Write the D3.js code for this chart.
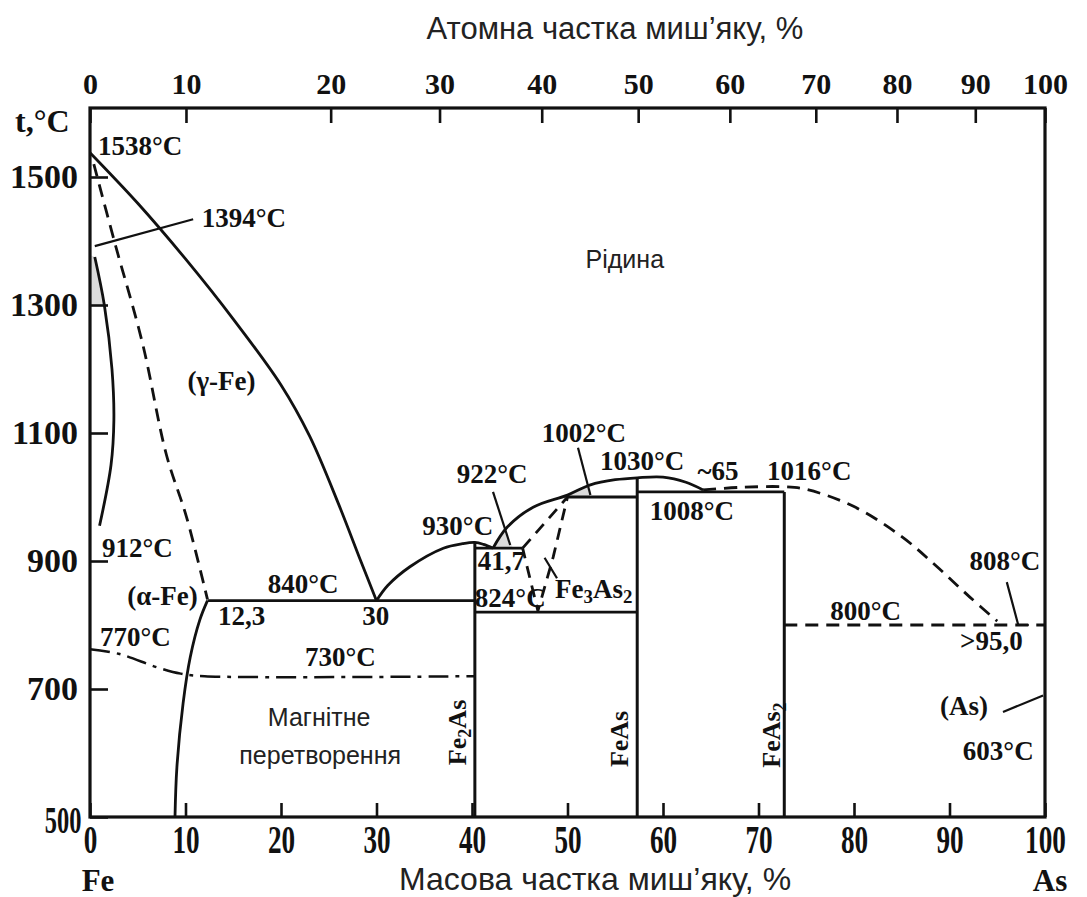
<!DOCTYPE html>
<html><head><meta charset="utf-8">
<script src="https://cdn.jsdelivr.net/npm/d3@7"></script>
<style>
body{margin:0;background:#fff}
.serif{font-family:'Liberation Serif','Times New Roman',serif;font-weight:bold;fill:#111}
.sans{font-family:'Liberation Sans',Arial,sans-serif;fill:#222}
</style>
</head><body>
<script>
// ---------- data ----------
const massTicks = [0,10,20,30,40,50,60,70,80,90,100];
const tempTicks = [500,700,900,1100,1300,1500];
const atomicLabels = [0,10,20,30,40,50,60,70,80,90,100];
const atomicTickMass = [0,10.05,25.2,36.6,47.3,57.4,67.0,76.0,84.5,92.7,100];

// phase boundaries: [mass % As, °C]
const liquidusFe = [[0,1538],[5,1459],[10,1372],[15,1278],[20,1175],[23,1095],[26,990],[28.3,902],[30,838]];
const deltaGammaDashed = [[0.4,1520],[2.6,1397],[5.5,1240],[8,1066],[10.1,969],[12.3,840]];
const gammaLoop = [[0.5,1375],[1.5,1300],[2.3,1200],[2.5,1120],[2.2,1050],[1.0,955]];
const alphaSolvus = [[12.3,838],[11.5,808],[10.5,750],[9.75,678],[9.1,578],[8.9,500]];
const eutectic840 = [[12.3,838],[40.3,838]];
const magnetic = [[0,762],[3,755],[7,734],[9.5,724],[12,720],[40.3,720]];
const liquidusFe2As = [[30,838],[31.2,862],[33.5,891],[37,920],[39,927],[40.3,929],[41.2,926],[42.2,920]];
const liquidusFeAs = [[42.2,920],[43.7,953],[46.4,984],[50,1003],[52.4,1019],[55,1027],[57.3,1030],[60,1031],[62.4,1023],[64.2,1011]];
const liquidusAsDashed = [[64.2,1011],[68,1015],[72.7,1016],[75,1012],[80,985],[85,938],[88.7,891],[92.1,844],[95,806]];
const fe3as2Dashed = [[45.3,920],[50,1000],[48.5,906],[46.9,822],[45.3,920]];
const peritectic922 = [[40.3,920],[45.3,920]];
const peritectic1002 = [[50,1000],[57.3,1000]];
const eutectic1008 = [[57.3,1008],[72.7,1008]];
const line824 = [[40.3,820],[57.3,820]];
const eutectic800 = [[72.7,800],[100,800]];
const fe2asLine = [[40.3,500],[40.3,929]];
const feasLine = [[57.3,500],[57.3,1030]];
const feas2Line = [[72.7,500],[72.7,1008]];
const leader1394 = [[0.5,1392],[10.8,1434]];
const leader922 = [[42.2,1008],[44,925]];
const leader1002 = [[51.1,1077],[52.4,1003]];
const leaderFe3As2 = [[47.6,905],[48.9,873]];
const leader808 = [[96,867],[97.2,800],[98.3,800]];
const leaderAs = [[95.6,664],[99.8,690]];
const shade922 = [[42.2,920],[44.3,920],[43.4,947]];
const shade1002 = [[50,1000],[52.4,1000],[52.1,1019]];
const shadeLoop = [[0,1378],[0.5,1375],[1.5,1300],[0,1300]];

// annotations: text parts ([string, subscript?]) anchored at [mass %, °C]
const annotations = [
  {p:[["1538°C"]], at:[0.84,1534]},
  {p:[["1394°C"]], at:[11.7,1422]},
  {p:[["(γ-Fe)"]], at:[10.2,1167]},
  {p:[["912°C"]], at:[1.26,906]},
  {p:[["(α-Fe)"]], at:[3.9,831]},
  {p:[["770°C"]], at:[1.05,767]},
  {p:[["840°C"]], at:[18.6,850]},
  {p:[["12,3"]], at:[13.4,800]},
  {p:[["30"]], at:[28.5,800]},
  {p:[["730°C"]], at:[22.5,736]},
  {p:[["930°C"]], at:[34.8,941]},
  {p:[["922°C"]], at:[38.4,1022]},
  {p:[["41,7"]], at:[40.6,886]},
  {p:[["824°C"]], at:[40.3,828]},
  {p:[["Fe"],["3",1],["As"],["2",1]], at:[48.7,842]},
  {p:[["1002°C"]], at:[47.3,1086]},
  {p:[["1030°C"]], at:[53.4,1042]},
  {p:[["~65"]], at:[63.6,1027]},
  {p:[["1016°C"]], at:[70.9,1027]},
  {p:[["1008°C"]], at:[58.6,964]},
  {p:[["808°C"]], at:[92.1,886]},
  {p:[["800°C"]], at:[77.5,808]},
  {p:[[">95,0"]], at:[91.1,761]},
  {p:[["(As)"]], at:[89,659]},
  {p:[["603°C"]], at:[91.4,589]}
];
const compoundLabels = [
  {p:[["Fe"],["2",1],["As"]], at:[39.4,581]},
  {p:[["FeAs"]], at:[56.3,578]},
  {p:[["FeAs"],["2",1]], at:[72.3,577]}
];
const regionLabels = [
  {t:"Рідина", at:[56,1358]},
  {t:"Магнітне", at:[24,642]},
  {t:"перетворення", at:[24.1,583]}
];
const topTitle = "Атомна частка миш’яку, %";
const bottomTitle = "Масова частка миш’яку, %";

// ---------- drawing ----------
const W=1087, H=897, frameTop=108;
const x = d3.scaleLinear().domain([0,100]).range([90,1045]);
const y = d3.scaleLinear().domain([500,1500]).range([817,177]);
const svg = d3.select("body").append("svg").attr("width",W).attr("height",H);

const lin = d3.line().x(d=>x(d[0])).y(d=>y(d[1]));
const smooth = d3.line().x(d=>x(d[0])).y(d=>y(d[1])).curve(d3.curveCatmullRom.alpha(0.5));

// shading
[shade922, shade1002, shadeLoop].forEach(s=>{
  svg.append("path").attr("d", lin(s)+"Z").attr("fill","#dcdcdc").attr("stroke","none");
});

function draw(data, gen, opts={}){
  svg.append("path").attr("d", gen(data)).attr("fill","none")
    .attr("stroke","#111").attr("stroke-width", opts.w||2.8)
    .attr("stroke-dasharray", opts.dash||null)
    .attr("stroke-linejoin","round");
}
const DASH="13,8";
draw(liquidusFe, smooth);
draw(deltaGammaDashed, smooth, {dash:DASH});
draw(gammaLoop, smooth);
draw(alphaSolvus, smooth);
draw(eutectic840, lin);
draw(magnetic, smooth, {dash:"20,7,4,7", w:2.5});
draw(liquidusFe2As, smooth);
draw(liquidusFeAs, smooth);
draw(liquidusAsDashed, smooth, {dash:DASH});
draw(fe3as2Dashed, lin, {dash:"12,8"});
draw(peritectic922, lin);
draw(peritectic1002, lin);
draw(eutectic1008, lin);
draw(line824, lin);
draw(eutectic800, lin, {dash:DASH});
draw(fe2asLine, lin, {w:3});
draw(feasLine, lin, {w:3});
draw(feas2Line, lin, {w:3});
draw(leader1394, lin, {w:2.2});
draw(leader922, lin, {w:2.2});
draw(leader1002, lin, {w:2.2});
draw(leaderFe3As2, lin, {w:2.2});
draw(leader808, lin, {w:2.2});
draw(leaderAs, lin, {w:2.2});

// axes
const bottomAxis = d3.axisBottom(x).tickValues(massTicks).tickFormat(d3.format("d"))
  .tickSizeInner(-14).tickSizeOuter(0).tickPadding(8);
const gb = svg.append("g").attr("transform",`translate(0,${y(500)})`).call(bottomAxis);
gb.selectAll("text").attr("class","serif").style("font-size","40px")
  .attr("transform","scale(0.68,1)");

const leftAxis = d3.axisLeft(y).tickValues(tempTicks).tickFormat(d3.format("d"))
  .tickSizeInner(-18).tickSizeOuter(0).tickPadding(12);
const gl = svg.append("g").attr("transform",`translate(${x(0)},0)`).call(leftAxis);
gl.selectAll("text").attr("class","serif").style("font-size","34px")
  .attr("transform", d=> d===500 ? "translate(0,4) scale(0.72,1.1)" : null);

const topAxis = d3.axisTop(x).tickValues(atomicTickMass).tickFormat((d,i)=>atomicLabels[i])
  .tickSizeInner(-15).tickSizeOuter(0).tickPadding(14);
const gt = svg.append("g").attr("transform",`translate(0,${frameTop})`).call(topAxis);
gt.selectAll("text").attr("class","serif").style("font-size","30px").attr("dy","0");

[gb,gl,gt].forEach(g=>{
  g.selectAll("path.domain").remove();
  g.selectAll("line").attr("stroke","#111").attr("stroke-width",2.6);
});

// frame
svg.append("rect").attr("x",x(0)).attr("y",frameTop).attr("width",x(100)-x(0)).attr("height",y(500)-frameTop)
  .attr("fill","none").attr("stroke","#111").attr("stroke-width",3.2);

// annotations
function addParts(sel, parts){
  let prevSub = false;
  parts.forEach(([s,sub])=>{
    sel.append("tspan").text(s)
      .attr("dy", sub ? "0.28em" : (prevSub ? "-0.2em" : null))
      .style("font-size", sub ? "0.7em" : null);
    prevSub = !!sub;
  });
}
annotations.forEach(a=>{
  const t = svg.append("text").attr("class","serif").attr("x",x(a.at[0])).attr("y",y(a.at[1]))
    .style("font-size","27px");
  addParts(t, a.p);
});
compoundLabels.forEach(a=>{
  const t = svg.append("text").attr("class","serif")
    .attr("transform",`translate(${x(a.at[0])},${y(a.at[1])}) rotate(-90)`)
    .style("font-size","26px");
  addParts(t, a.p);
});
regionLabels.forEach(a=>{
  svg.append("text").attr("class","sans").attr("x",x(a.at[0])).attr("y",y(a.at[1]))
    .attr("text-anchor","middle").style("font-size","25px").text(a.t);
});

// axis titles and unit labels
svg.append("text").attr("class","sans").attr("x",615).attr("y",39).attr("text-anchor","middle")
  .style("font-size","31px").text(topTitle);
svg.append("text").attr("class","sans").attr("x",595).attr("y",890).attr("text-anchor","middle")
  .style("font-size","32px").text(bottomTitle);
svg.append("text").attr("class","serif").attr("x",15).attr("y",132).style("font-size","32px").text("t,°C");
svg.append("text").attr("class","serif").attr("x",x(0)+8).attr("y",891).attr("text-anchor","middle").style("font-size","31px").text("Fe");
svg.append("text").attr("class","serif").attr("x",x(100)+5).attr("y",891).attr("text-anchor","middle").style("font-size","31px").text("As");
</script>
</body></html>
